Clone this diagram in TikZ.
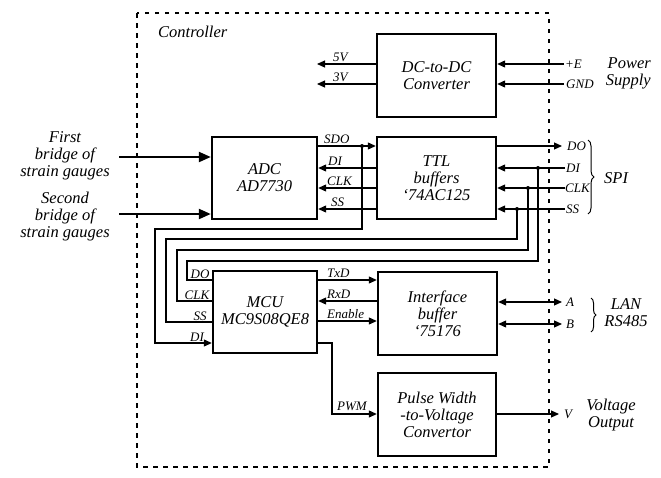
\documentclass[tikz,border=0pt]{standalone}
\usepackage{fontspec}
\setmainfont{Liberation Serif}
\usetikzlibrary{arrows.meta,decorations.pathreplacing}
\newcommand\bxfont{\fontsize{16.5}{17}\selectfont\itshape}
\newcommand\lbfont{\fontsize{13}{14}\selectfont\itshape}
\newcommand\txfont{\fontsize{16.5}{17}\selectfont\itshape}
\begin{document}
\begin{tikzpicture}[x=1pt,y=-1pt,
  blk/.style={draw,line width=2.4pt,align=center,inner sep=0pt,font=\bxfont},
  wire/.style={line width=1.1pt},
  arr/.style={wire,-{Triangle[length=8pt,width=7pt]}},
  darr/.style={wire,{Triangle[length=8pt,width=7pt]}-{Triangle[length=8pt,width=7pt]}},
  bigarr/.style={line width=2.2pt,-{Triangle[length=12pt,width=10pt]}},
  lbl/.style={font=\lbfont,inner sep=0pt},
  txt/.style={font=\txfont,align=center,inner sep=0pt},
  dot/.style={circle,fill,inner sep=0pt,minimum size=4pt},
  brc/.style={line width=1pt,decorate,decoration={brace,amplitude=6pt}}
]
\useasboundingbox (0,0) rectangle (661,477);
% controller border
\draw[line width=2.2pt,dash pattern=on 4.5pt off 5.5pt] (137,13) rectangle (549,467);
\node[txt,anchor=west] (ctl) at (158,32) {Controller};

% blocks
\node[blk,minimum width=119pt,minimum height=83pt] (dc) at (436.5,75.5) {DC-to-DC\\Converter};
\node[blk,minimum width=105pt,minimum height=82pt] (adc) at (264.5,178) {ADC\\AD7730};
\node[blk,minimum width=119pt,minimum height=82pt] (ttl) at (436.5,178) {TTL\\buffers\\‘74AC125};
\node[blk,minimum width=104pt,minimum height=82pt] (mcu) at (265,312) {MCU\\MC9S08QE8};
\node[blk,minimum width=119pt,minimum height=83pt] (ifb) at (437.5,313.5) {Interface\\buffer\\‘75176};
\node[blk,minimum width=118pt,minimum height=83pt] (pwv) at (437,414.5) {Pulse Width\\-to-Voltage\\Convertor};

% power
\coordinate (o5) at (317,64);
\coordinate (o3) at (317,84);
\coordinate (ie) at (564,64);
\coordinate (ig) at (564,84);
\draw[arr] (dc.west|-o5) -- (o5);
\draw[arr] (dc.west|-o3) -- (o3);
\node[lbl,anchor=base west] (l5v) at (333,61) {5V};
\node[lbl,anchor=base west] (l3v) at (333,81) {3V};
\draw[arr] (ie) -- (dc.east|-ie);
\draw[arr] (ig) -- (dc.east|-ig);
\node[lbl,anchor=west] (le) at (565,64) {+E};
\node[lbl,anchor=west] (lg) at (566,84) {GND};
\node[txt,anchor=east,align=right] (ps) at (651,73) {Power\\Supply};

% strain gauges
\node[txt] (sg1) at (65,156) {First\\bridge of\\strain gauges};
\node[txt] (sg2) at (65,217) {Second\\bridge of\\strain gauges};
\coordinate (s1) at (119,157);
\coordinate (s2) at (119,214);
\draw[bigarr] (s1) -- (adc.west|-s1);
\draw[bigarr] (s2) -- (adc.west|-s2);

% ADC <-> TTL
\node[dot] (d0) at (362,146) {};
\draw[arr] (adc.east|-d0) -- (ttl.west|-d0);
\draw[arr] (ttl.west|-0,168) -- (adc.east|-0,168);
\draw[arr] (ttl.west|-0,188) -- (adc.east|-0,188);
\draw[arr] (ttl.west|-0,209) -- (adc.east|-0,209);
\node[lbl,anchor=base west] (lsdo) at (324,143) {SDO};
\node[lbl,anchor=base west] (ldi) at (328,165) {DI};
\node[lbl,anchor=base west] (lclk) at (327,185) {CLK};
\node[lbl,anchor=base west] (lss) at (331,206) {SS};

% TTL <-> SPI
\coordinate (xdo) at (562,146);
\coordinate (xdi) at (565,168);
\coordinate (xclk) at (565,188);
\coordinate (xss) at (565,209);
\draw[arr] (ttl.east|-xdo) -- (xdo);
\draw[arr] (xdi) -- (ttl.east|-xdi);
\draw[arr] (xclk) -- (ttl.east|-xclk);
\draw[arr] (xss) -- (ttl.east|-xss);
\node[dot] (d1) at (538,168) {};
\node[dot] (d2) at (528,188) {};
\node[dot] (d3) at (517,209) {};
\node[lbl,anchor=west] (rdo) at (567,146) {DO};
\node[lbl,anchor=west] (rdi) at (566,168) {DI};
\node[lbl,anchor=west] (rclk) at (565,188) {CLK};
\node[lbl,anchor=west] (rss) at (566,209) {SS};
\draw[brc] (588,140) -- (588,214);
\node[txt,anchor=west] (spi) at (604,178) {SPI};

% routes to MCU
\draw[arr] (d0.center) -- (362,229) -- (155,229) |- (mcu.west|-0,343);
\draw[wire] (d1.center) -- (538,261) -- (187,261) |- (mcu.west|-0,280);
\draw[wire] (d2.center) -- (528,250) -- (177,250) |- (mcu.west|-0,301);
\draw[wire] (d3.center) -- (517,239) -- (166,239) |- (mcu.west|-0,322);
\node[lbl,anchor=base] (mdo) at (200,278) {DO};
\node[lbl,anchor=base] (mclk) at (197,299) {CLK};
\node[lbl,anchor=base] (mss) at (200,320) {SS};
\node[lbl,anchor=base] (mdi) at (197,341) {DI};

% MCU <-> interface
\draw[arr] (mcu.east|-0,280) -- (ifb.west|-0,280);
\draw[arr] (ifb.west|-0,301) -- (mcu.east|-0,301);
\draw[arr] (mcu.east|-0,321) -- (ifb.west|-0,321);
\node[lbl,anchor=base west] (ltx) at (327,277) {TxD};
\node[lbl,anchor=base west] (lrx) at (327,298) {RxD};
\node[lbl,anchor=base west] (len) at (327,318) {Enable};

% LAN
\coordinate (xa) at (562,302);
\coordinate (xb) at (562,324);
\draw[darr] (ifb.east|-xa) -- (xa);
\draw[darr] (ifb.east|-xb) -- (xb);
\node[lbl,anchor=west] (la) at (566,302) {A};
\node[lbl,anchor=west] (lb) at (566,324) {B};
\draw[brc,decoration={brace,amplitude=5pt}] (591,298) -- (591,332);
\node[txt] (lan) at (626,313) {LAN\\RS485};

% PWM
\draw[arr] (mcu.east|-0,343) -- (332,343) |- (pwv.west|-0,414);
\node[lbl,anchor=base west] (lpwm) at (337,410) {PWM};
\coordinate (xv) at (559,414);
\draw[arr] (pwv.east|-xv) -- (xv);
\node[lbl,anchor=west] (lv) at (564,414) {V};
\node[txt] (vo) at (611,415) {Voltage\\Output};
\end{tikzpicture}
\end{document}
